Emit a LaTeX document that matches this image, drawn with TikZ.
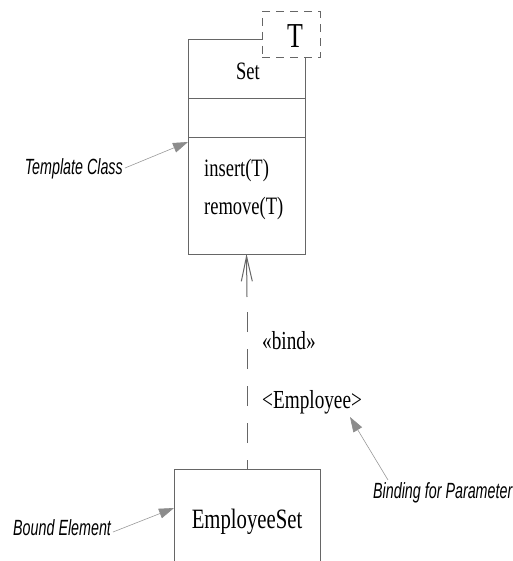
\documentclass[tikz,border=0pt]{standalone}
\usepackage{fontspec}
\usetikzlibrary{arrows.meta}
\newfontfamily\serifc[FakeStretch=0.74]{Liberation Serif}
\newfontfamily\sansc[FakeStretch=0.65]{Liberation Sans}
\tikzset{
  boxline/.style={draw=black!60, line width=1pt},
  umlbox/.style={boxline, fill=white, inner sep=0pt, outer sep=0pt},
  serif/.style={inner sep=0pt, font=\serifc\fontsize{#1}{#1}\selectfont},
  note/.style={inner sep=0pt, font=\sansc\itshape\fontsize{22}{22}\selectfont},
  notearrow/.style={draw=black!40, line width=0.6pt, -{Triangle[length=15pt,width=10pt,color=black!45,fill=black!45]}},
  bindline/.style={draw=black!60, line width=1pt, dash pattern=on 20pt off 17pt, dash phase=11pt},
  bindhead/.style={draw=black!60, line width=1pt, -{Straight Barb[length=25pt,width=11pt,line width=1pt]}}
}
\begin{document}
\begin{tikzpicture}[x=1pt,y=-1pt]
\useasboundingbox (0,0) rectangle (512,561);
\clip (0,0) rectangle (512,561);
% Template class box
\node[umlbox, minimum width=117pt, minimum height=214.5pt] (Set) at (246.5,146.75) {};
\draw[boxline] (188,99) coordinate (d1w) -- (305,99) coordinate (d1e);
\draw[boxline] (188,138) coordinate (d2w) -- (305,138) coordinate (d2e);
\node[draw=black!60, line width=1pt, dash pattern=on 8pt off 6pt, fill=white, minimum width=58pt, minimum height=46pt, inner sep=0pt] (Tpar) at (291,35) {};
\node[serif=35, anchor=base] (Tlbl) at (295,48) {T};
\node[serif=25, anchor=base] (Setname) at (248,80) {Set};
\node[serif=25, anchor=base west] (ins) at (204,177) {insert(T)};
\node[serif=25, anchor=base west] (rem) at (204,214) {remove(T)};
% Bound element box
\node[umlbox, minimum width=146pt, minimum height=140pt] (EmpSet) at (247,539) {};
\node[serif=28, anchor=base] (EmpSetname) at (247,528) {EmployeeSet};
% bind dependency
\coordinate (bindtop) at (247,297);
\draw[bindline] (EmpSet.north) -- (bindtop);
\draw[bindhead] (bindtop) -- (Set.south);
\node[serif=26, anchor=base west] (bind) at (262,349) {«bind»};
\node[serif=26, anchor=base west] (emp) at (262,408) {<Employee>};
% notes
\node[note, anchor=base east] (tc) at (123,175) {Template Class};
\coordinate (tcs) at (125,168);
\coordinate (tct) at (188,142);
\draw[notearrow] (tcs) -- (tct);
\node[note, anchor=base west] (be) at (13,535) {Bound Element};
\coordinate (bes) at (113,532);
\coordinate (bet) at (174,508);
\draw[notearrow] (bes) -- (bet);
\node[note, anchor=base west] (bp) at (373,498) {Binding for Parameter};
\coordinate (bps) at (388,480);
\coordinate (bpt) at (350,417);
\draw[notearrow] (bps) -- (bpt);
\end{tikzpicture}
\end{document}
